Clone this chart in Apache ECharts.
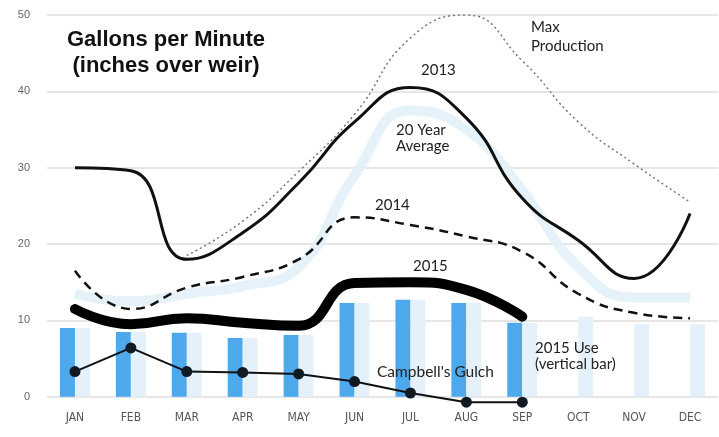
<!DOCTYPE html>
<html>
<head>
<meta charset="utf-8">
<script src="https://cdn.jsdelivr.net/npm/echarts@6/dist/echarts.min.js"></script>
<style>
html,body{margin:0;padding:0;background:#fff;}
#chart{width:719px;height:437px;}
</style>
</head>
<body>
<div id="chart"></div>
<script>
// ---- data ----
const months = ['JAN','FEB','MAR','APR','MAY','JUN','JUL','AUG','SEP','OCT','NOV','DEC'];
const use2015 = [9, 8.5, 8.4, 7.7, 8.1, 12.3, 12.7, 12.3, 9.7, null, null, null];
const useLight = [9, 8.5, 8.4, 7.7, 8.1, 12.3, 12.7, 12.3, 9.7, 10.5, 9.5, 9.5];
const avg20 = [13.5, 12.5, 13.5, 14.5, 17, 29, 37.5, 35, 27, 17, 13, 13];
const y2013 = [30, 29.6, 18, 21.5, 28, 36, 40.5, 36.5, 26, 20.5, 15.5, 24];
const maxProd = [null, null, 18.5, 23, 29.5, 37, 47, 50, 44, 36, 30.5, 25.5];
const y2014 = [16.5, 11.5, 14.3, 15.7, 18, 23.5, 22.5, 21, 19, 13.5, 11, 10.3];
const y2015 = [11.5, 9.5, 10.3, 9.7, 9.3, 14.9, 15, 14, 10.5, null, null, null];
const campbell = [3.3, 6.4, 3.3, 3.2, 3.0, 2.0, 0.5, -0.7, -0.7, null, null, null];
const yTicks = [0, 10, 20, 30, 40, 50];

const chart = echarts.init(document.getElementById('chart'));
const annoFont = 'Lato, "Open Sans", sans-serif';
function anno(text, left, top, size, lh) {
  return { type: 'text', left: left, top: top, z: 100,
    style: { text: text, fill: '#222', font: size + 'px ' + annoFont, lineHeight: lh || size + 2 } };
}
chart.setOption({
  animation: false,
  backgroundColor: '#fff',
  grid: { left: 47, right: 1, top: 15, bottom: 2, outerBoundsMode: 'none', containLabel: false },
  xAxis: {
    type: 'category', data: months,
    axisLine: { show: false, onZero: false },
    axisTick: { show: false },
    axisLabel: { color: '#555', fontSize: 12, margin: -23, fontFamily: '"DejaVu Sans Condensed", "Liberation Sans Narrow", sans-serif' },
    splitLine: { show: false }
  },
  yAxis: {
    type: 'value', min: -5, max: 50, interval: 5,
    axisLine: { show: false }, axisTick: { show: false },
    axisLabel: { color: '#666', fontSize: 11, margin: 17,
      formatter: v => yTicks.indexOf(v) >= 0 ? String(v) : '' },
    splitLine: { show: true, lineStyle: { color: ['rgba(0,0,0,0)', '#e6e6e6'], width: 2 } }
  },
  series: [
    { name: '2015 Use', type: 'bar', data: use2015, barWidth: 15, barGap: '0%',
      itemStyle: { color: '#4ea8ec' }, z: 1 },
    { name: 'Use (light)', type: 'bar', data: useLight, barWidth: 15,
      itemStyle: { color: '#e4f1fa' }, z: 1 },
    { name: '20 Year Average', type: 'line', data: avg20, smooth: 0.5, symbol: 'none',
      lineStyle: { color: '#e2f0f8', width: 10, opacity: 0.85 }, z: 2 },
    { name: 'Max Production', type: 'line', data: maxProd, smooth: 0.5, symbol: 'none',
      lineStyle: { color: '#777', width: 1.5, type: [2, 3] }, z: 3 },
    { name: '2013', type: 'line', data: y2013, smooth: 0.5, symbol: 'none',
      lineStyle: { color: '#111', width: 3 }, z: 4 },
    { name: '2014', type: 'line', data: y2014, smooth: 0.5, symbol: 'none',
      lineStyle: { color: '#111', width: 2.5, type: [9, 6] }, z: 4 },
    { name: '2015', type: 'line', data: y2015, smooth: 0.5, symbol: 'none',
      lineStyle: { color: '#000', width: 10, cap: 'round', join: 'round' }, z: 5 },
    { name: "Campbell's Gulch", type: 'line', data: campbell, smooth: false,
      symbol: 'circle', symbolSize: 11,
      itemStyle: { color: '#111a22' },
      lineStyle: { color: '#111', width: 2 }, z: 6 }
  ],
  graphic: [
    { type: 'text', x: 166, y: 27, z: 100,
      style: { text: 'Gallons per Minute\n(inches over weir)', fill: '#111', align: 'center', verticalAlign: 'top',
        font: 'bold 22px "Liberation Sans", Arial, sans-serif', lineHeight: 26 } },
    anno('Max\nProduction', 531, 18, 15, 19),
    anno('2013', 421, 62, 15),
    anno('20 Year\nAverage', 396, 122, 15, 16),
    anno('2014', 375, 197, 15),
    anno('2015', 413, 258, 15),
    anno("Campbell's Gulch", 377, 363, 15.5),
    anno('2015 Use\n(vertical bar)', 535, 340, 15, 16)
  ]
});
</script>
</body>
</html>
